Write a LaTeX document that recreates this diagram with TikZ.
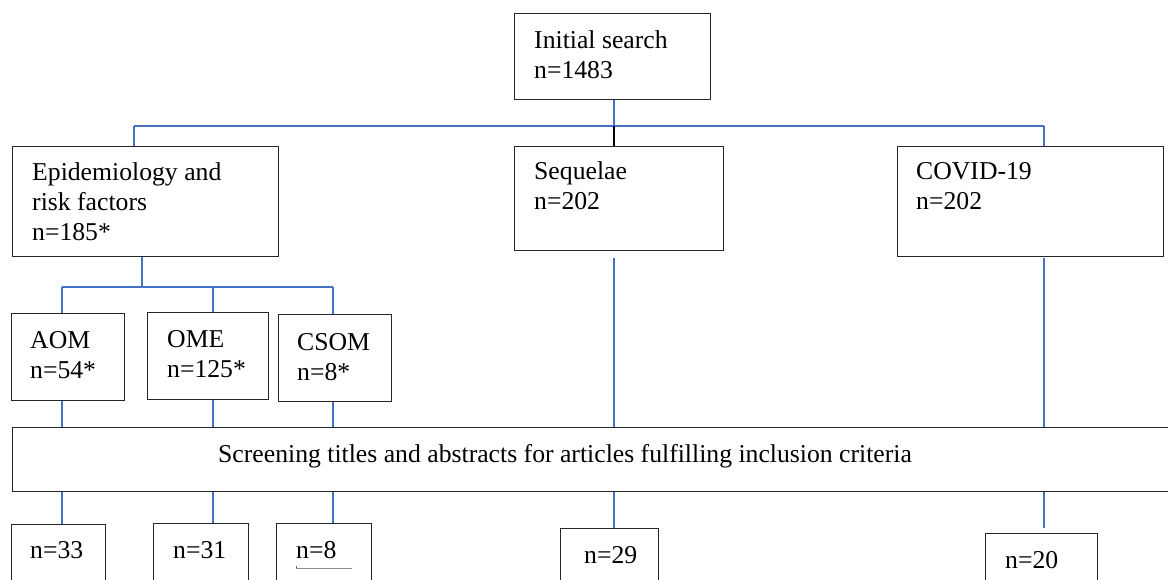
\documentclass[tikz,border=0pt]{standalone}
\usepackage{fontspec}
\setmainfont{Liberation Serif}
\definecolor{linkblue}{RGB}{68,114,196}
\begin{document}
\begin{tikzpicture}[x=1pt,y=-1pt,
  box/.style={draw=black!85,line width=1.4pt,inner sep=0pt,anchor=north west},
  txt/.style={anchor=base west,inner sep=0pt,align=left,font=\fontsize{25.7}{29.8}\selectfont},
  conn/.style={draw=linkblue,line width=2pt},
  blk/.style={draw=black,line width=2pt}]
\useasboundingbox (0,0) rectangle (1168,579);
\fill[white] (0,0) rectangle (1168,579);
% boxes (top row); text nodes placed at the baseline of their last line
\node[box,minimum width=196pt,minimum height=86pt] (init) at (514,13) {};
\node[txt] (tinit) at (534,78) {Initial search\\n=1483};
\node[box,minimum width=266pt,minimum height=110pt] (epi) at (12,146) {};
\node[txt] (tepi) at (32,240) {Epidemiology and\\risk factors\\n=185*};
\node[box,minimum width=209pt,minimum height=104pt] (seq) at (514,146) {};
\node[txt] (tseq) at (534,209) {Sequelae\\n=202};
\node[box,minimum width=266pt,minimum height=110pt] (cov) at (897,146) {};
\node[txt] (tcov) at (916,209) {COVID-19\\n=202};
% subgroups
\node[box,minimum width=113pt,minimum height=87pt] (aom) at (11,313) {};
\node[txt] (taom) at (30,378) {AOM\\n=54*};
\node[box,minimum width=121pt,minimum height=87pt] (ome) at (147,312) {};
\node[txt] (tome) at (167,377) {OME\\n=125*};
\node[box,minimum width=113pt,minimum height=87pt] (csom) at (278,314) {};
\node[txt] (tcsom) at (297,380) {CSOM\\n=8*};
% screening
\node[box,minimum width=1160pt,minimum height=64pt] (scr) at (12,427) {};
\node[txt] (tscr) at (218,462) {Screening titles and abstracts for articles fulfilling inclusion criteria};
% bottom boxes
\node[box,minimum width=94pt,minimum height=70pt] (b33) at (11,524) {};
\node[txt] (t33) at (30,558) {n=33};
\node[box,minimum width=95pt,minimum height=70pt] (b31) at (153,523) {};
\node[txt] (t31) at (173,558) {n=31};
\node[box,minimum width=95pt,minimum height=70pt] (b8) at (276,523) {};
\node[txt] (t8) at (296,558) {n=8};
\draw[black!45,line width=0.8pt] (t8.base west) ++(0,10) coordinate (u1) -- ++(56,0) coordinate (u2);
\draw[black!60,line width=0.8pt] (u1) -- ++(0,-2);
\node[box,minimum width=98pt,minimum height=70pt] (b29) at (560,528) {};
\node[txt] (t29) at (584,563) {n=29};
\node[box,minimum width=112pt,minimum height=70pt] (b20) at (985,533) {};
\node[txt] (t20) at (1005,568) {n=20};
% junctions
\coordinate (jtop) at (614,126);
\coordinate (jl) at (134,126);
\coordinate (jr) at (1044,126);
\coordinate (je) at (142,287);
\coordinate (ja) at (62,287);
\coordinate (jo) at (213,287);
\coordinate (jc) at (333,287);
\coordinate (sq) at (614,258);
\coordinate (cv) at (1044,258);
\coordinate (e29) at (614,528);
\coordinate (e20) at (1044,528);
% connectors
\draw[conn] (jtop |- init.south) -- (jtop);
\draw[conn] (jl) -- (jr);
\draw[conn] (jl) -- (jl |- epi.north);
\draw[conn] (jr) -- (jr |- cov.north);
\draw[blk] (jtop) -- (jtop |- seq.north);
\draw[conn] (je |- epi.south) -- (je);
\draw[conn] (ja) -- (jc);
\draw[conn] (ja) -- (ja |- aom.north);
\draw[conn] (jo) -- (jo |- ome.north);
\draw[conn] (jc) -- (jc |- csom.north);
\draw[conn] (ja |- aom.south) -- (ja |- scr.north);
\draw[conn] (jo |- ome.south) -- (jo |- scr.north);
\draw[conn] (jc |- csom.south) -- (jc |- scr.north);
\draw[conn] (sq) -- (sq |- scr.north);
\draw[conn] (cv) -- (cv |- scr.north);
\draw[conn] (ja |- scr.south) -- (ja |- b33.north);
\draw[conn] (jo |- scr.south) -- (jo |- b31.north);
\draw[conn] (jc |- scr.south) -- (jc |- b8.north);
\draw[conn] (sq |- scr.south) -- (e29);
\draw[conn] (cv |- scr.south) -- (e20);
\end{tikzpicture}
\end{document}
